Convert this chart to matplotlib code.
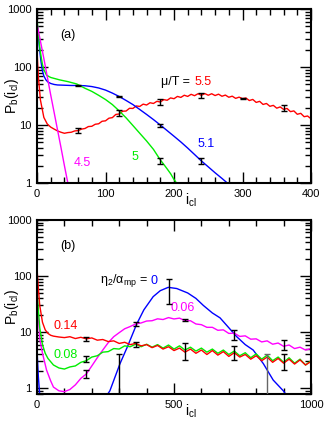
import matplotlib
matplotlib.use("Agg")
import matplotlib.pyplot as plt
from matplotlib.ticker import LogLocator, NullFormatter, MultipleLocator, FixedLocator

plt.rcParams['font.family'] = ['Liberation Sans', 'DejaVu Sans']
plt.rcParams['mathtext.fontset'] = 'custom'
plt.rcParams['mathtext.rm'] = 'Liberation Sans'
plt.rcParams['mathtext.it'] = 'Liberation Sans:italic'

RED, BLUE, GREEN, MAG = '#ff0000', '#0000ff', '#00ee00', '#ff00ff'

# ---------------- panel (a) data ----------------
red_a_x = [0, 2] + list(range(5, 401, 5))
red_a_y = [200, 68,
           27, 13.5, 10.4, 9.2, 8.5, 7.9, 7.5, 7.2, 7.4, 7.5,
           7.9, 8.0, 8.5, 8.7, 9.4, 9.5, 10.3, 10.5, 11.6, 11.8,
           13.1, 13.4, 15.2, 15.5, 17.3, 17.4, 19.4, 19.3, 21.3, 20.9,
           22.9, 22.1, 24.2, 23.5, 25.6, 24.9, 27.4, 26.7, 29.3, 28.4,
           31.1, 29.9, 32.6, 31.1, 33.8, 32.0, 34.6, 32.5, 34.8, 32.6,
           34.6, 32.2, 34.0, 31.3, 32.8, 30.1, 31.4, 28.8, 30.2, 28.5,
           29.2, 26.4, 27.6, 24.5, 25.6, 22.6, 23.5, 21.0, 21.8, 19.5,
           20.5, 18.6, 19.3, 17.0, 17.5, 15.3, 15.9, 13.9, 14.3, 12.8]

blue_a_x = [0, 2, 4, 6, 8, 10, 13, 16, 20, 25, 30, 40, 50, 60, 70, 80, 90, 100,
            110, 120, 130, 140, 150, 160, 170, 180, 190, 200, 210, 220, 230,
            240, 250, 260, 270, 280]
blue_a_y = [600, 330, 190, 120, 85, 70, 60, 55, 52, 50, 49, 48.5, 48, 48, 47.5,
            46, 43.5, 40, 35.5, 31, 26.5, 22.5, 18.5, 15.2, 12.4, 10, 8.0, 6.4,
            5.1, 4.0, 3.1, 2.4, 1.9, 1.5, 1.2, 0.95]

green_a_x = [0, 2, 4, 6, 8, 10, 14, 20, 33, 45, 58, 70, 80, 90, 100, 110, 120,
             130, 140, 150, 160, 170, 180, 185, 190, 195, 200, 205]
green_a_y = [700, 380, 220, 150, 110, 90, 72, 66, 60, 56, 51, 43, 38, 32.5,
             27.5, 22.5, 17.5, 13.3, 9.8, 7.2, 5.3, 3.8, 2.5, 2.1, 1.75, 1.45,
             1.15, 0.95]

mag_a_x = [0, 5, 10, 15, 20, 25, 30, 35, 40, 45, 48]
mag_a_y = [560, 280, 140, 68, 33, 16.5, 8.2, 4.1, 2.0, 1.0, 0.66]

eb_a_x = [60, 60, 120, 120, 180, 180, 180, 240, 240, 300, 360]
eb_a_y = [8.1, 48, 31, 16, 25, 10, 2.4, 32, 2.4, 29, 19.5]
eb_a_lo = [7.2, 46.5, 30, 14.3, 22.5, 9.4, 2.15, 29, 2.1, 28.3, 17.5]
eb_a_hi = [9.0, 49.5, 32, 18, 28, 10.6, 2.65, 35, 2.7, 29.7, 22]

# ---------------- panel (b) data ----------------
grid_b = list(range(100, 1001, 20))
red_b_x = [0, 5, 10, 20, 30, 40, 50, 60, 80] + grid_b
red_b_y = [140, 60, 30, 15, 11, 9.5, 8.8, 8.5, 8.2,
           8.0, 8.3, 7.7, 8.1, 7.6, 7.9, 7.2, 7.4, 6.8, 7.0,
           6.3, 6.6, 6.0, 6.3, 5.7, 6.0, 5.3, 5.8, 5.0, 5.5,
           4.7, 5.2, 4.4, 5.0, 4.2, 4.8, 4.0, 4.7, 3.9, 4.5,
           3.7, 4.3, 3.6, 4.0, 3.3, 3.8, 3.1, 3.6, 2.9, 3.4,
           2.8, 3.3, 2.7, 3.2, 2.6, 3.0]

green_b_x = [0, 5, 10, 20, 30, 40, 60, 80] + grid_b
green_b_y = [60, 25, 12, 6, 4.2, 3.4, 2.6, 2.3,
             2.2, 2.4, 2.5, 2.9, 3.1, 3.6, 3.8, 4.4, 4.5, 5.1,
             5.0, 5.7, 5.5, 6.1, 5.5, 6.1, 5.4, 6.0, 5.2, 5.9,
             5.0, 5.7, 4.8, 5.4, 4.6, 5.2, 4.4, 5.0, 4.2, 4.8,
             4.0, 4.6, 3.8, 4.3, 3.5, 4.1, 3.3, 3.9, 3.1, 3.6,
             2.9, 3.5, 2.8, 3.3, 2.6, 3.1]

mag_b_x = [0, 5, 11, 20, 35, 50, 60, 80] + grid_b
mag_b_y = [50, 18, 7.2, 4.2, 2.1, 1.35, 1.05, 0.9,
           0.87, 0.95, 1.15, 1.5, 1.8, 2.5, 3.5, 4.8, 6.5, 8.3,
           9.8, 11.5, 12.6, 14.0, 14.6, 15.8, 16.0, 17.3, 16.8, 18.2,
           17.2, 17.8, 16.0, 16.0, 14.0, 13.6, 12.2, 12.2, 10.8, 11.0,
           9.5, 9.6, 8.4, 8.6, 7.5, 7.6, 6.7, 7.0, 6.1, 6.4,
           5.6, 5.9, 5.1, 5.4, 4.8, 5.1]

blue_b1_x = [0, 5, 10, 15]
blue_b1_y = [5.0, 1.6, 0.75, 0.5]
blue_b2_x = [255, 266, 285, 303, 330, 364, 390, 424, 450, 479, 510, 550, 580,
             607, 640, 668, 700, 729, 760, 789, 826, 862, 899, 915]
blue_b2_y = [0.75, 0.9, 1.6, 2.75, 5.5, 14, 25, 43, 55, 63, 60, 50, 40, 30,
             22, 18, 12, 8.3, 6.0, 4.8, 2.75, 1.4, 0.9, 0.7]

eb_b_x = [180, 180, 180, 300, 360, 360, 480, 540, 540, 720, 720, 900, 900]
eb_b_y = [7.7, 3.3, 1.8, 2.3, 14, 6.0, 60, 16.3, 4.6, 9.0, 4.2, 5.8, 3.0]
eb_b_lo = [7.1, 2.9, 1.55, 0.5, 13, 5.4, 32, 15.6, 3.2, 7.2, 3.2, 4.8, 2.1]
eb_b_hi = [8.3, 3.7, 2.1, 4.0, 15, 6.6, 87, 17, 6.3, 11, 5.6, 7.2, 4.0]
eb_b_gray_x = [840]
eb_b_gray_y = [2.0]
eb_b_gray_lo = [0.3]
eb_b_gray_hi = [4.0]

# ---------------- figure ----------------
fig = plt.figure(figsize=(3.25, 4.22), dpi=100)
ax1 = fig.add_axes([37/325, 1-183/422, 274/325, 174/422])
ax2 = fig.add_axes([37/325, 1-394/422, 274/325, 174/422])

LW = 1.0

def style(ax):
    ax.set_yscale('log')
    for s in ax.spines.values():
        s.set_linewidth(1.5)
    ax.tick_params(which='both', direction='in', top=True, right=True,
                   labelsize=8, pad=4)
    ax.tick_params(which='major', length=8, width=1.0)
    ax.tick_params(which='minor', length=4.5, width=1.0)
    ax.yaxis.set_major_locator(FixedLocator([1, 10, 100, 1000]))
    ax.yaxis.set_minor_locator(LogLocator(base=10, subs=range(2, 10)))
    ax.yaxis.set_minor_formatter(NullFormatter())
    ax.set_yticklabels(['1', '10', '100', '1000'])
    ax.set_ylabel(r'P$_{\rm b}$(i$_{\rm cl}$)', fontsize=10)
    ax.yaxis.set_label_coords(-0.057, 0.5)
    ax.set_xlabel(r'i$_{\rm cl}$', fontsize=10)
    ax.xaxis.set_label_coords(0.56, -0.05)

def ebars(ax, x, y, lo, hi, color):
    yerr = [[yy - l for yy, l in zip(y, lo)], [h - yy for yy, h in zip(y, hi)]]
    ax.errorbar(x, y, yerr=yerr, fmt='none', ecolor=color, elinewidth=1.0,
                capsize=2, capthick=1.0, zorder=5)

# panel (a)
ax1.plot(red_a_x, red_a_y, color=RED, lw=LW)
ax1.plot(blue_a_x, blue_a_y, color=BLUE, lw=LW)
ax1.plot(green_a_x, green_a_y, color=GREEN, lw=LW)
ax1.plot(mag_a_x, mag_a_y, color=MAG, lw=LW)
ebars(ax1, eb_a_x, eb_a_y, eb_a_lo, eb_a_hi, 'black')
ax1.set_xlim(0, 400)
ax1.set_ylim(1, 1000)
style(ax1)
ax1.xaxis.set_major_locator(MultipleLocator(100))
ax1.xaxis.set_minor_locator(MultipleLocator(20))

ax1.text(0.113, 0.85, '(a)', transform=ax1.transAxes, fontsize=9,
         ha='center', va='center')
ax1.text(0.569, 0.58, 'μ/T = ', transform=ax1.transAxes, fontsize=9,
         ha='right', va='center')
ax1.text(0.574, 0.58, '5.5', transform=ax1.transAxes, fontsize=9,
         ha='left', va='center', color=RED)
ax1.text(0.617, 0.224, '5.1', transform=ax1.transAxes, fontsize=9,
         ha='center', va='center', color=BLUE)
ax1.text(0.358, 0.149, '5', transform=ax1.transAxes, fontsize=9,
         ha='center', va='center', color=GREEN)
ax1.text(0.164, 0.115, '4.5', transform=ax1.transAxes, fontsize=9,
         ha='center', va='center', color=MAG)

# panel (b)
ax2.plot(blue_b1_x, blue_b1_y, color=BLUE, lw=LW)
ax2.plot(blue_b2_x, blue_b2_y, color=BLUE, lw=LW)
ax2.plot(mag_b_x, mag_b_y, color=MAG, lw=LW)
ax2.plot(green_b_x, green_b_y, color=GREEN, lw=LW)
ax2.plot(red_b_x, red_b_y, color=RED, lw=LW)
ebars(ax2, eb_b_x, eb_b_y, eb_b_lo, eb_b_hi, 'black')
ebars(ax2, eb_b_gray_x, eb_b_gray_y, eb_b_gray_lo, eb_b_gray_hi, '#666666')
ax2.set_xlim(0, 1000)
ax2.set_ylim(0.79, 1000)
style(ax2)
ax2.xaxis.set_major_locator(MultipleLocator(500))
ax2.xaxis.set_minor_locator(MultipleLocator(100))

ax2.text(0.113, 0.85, '(b)', transform=ax2.transAxes, fontsize=9,
         ha='center', va='center')
ax2.text(0.405, 0.65, r'η$_2$/α$_{\rm mp}$ = ', transform=ax2.transAxes,
         fontsize=9, ha='right', va='center')
ax2.text(0.414, 0.65, '0', transform=ax2.transAxes, fontsize=9,
         ha='left', va='center', color=BLUE)
ax2.text(0.533, 0.494, '0.06', transform=ax2.transAxes, fontsize=9,
         ha='center', va='center', color=MAG)
ax2.text(0.106, 0.39, '0.14', transform=ax2.transAxes, fontsize=9,
         ha='center', va='center', color=RED)
ax2.text(0.106, 0.224, '0.08', transform=ax2.transAxes, fontsize=9,
         ha='center', va='center', color=GREEN)

fig.savefig('out.png', dpi=100)
